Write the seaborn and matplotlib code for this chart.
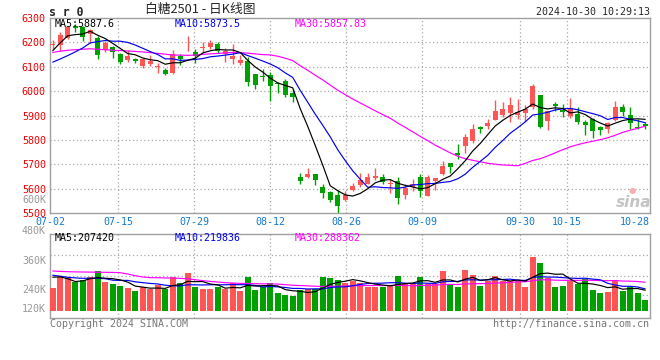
import matplotlib
matplotlib.use("Agg")
import matplotlib.pyplot as plt
import numpy as np
import pandas as pd
import seaborn as sns

# ---------------- data ----------------
open_p = [6190, 6190, 6220, 6268, 6264, 6234, 6220, 6168, 6182, 6151,
          6127, 6134, 6104, 6111, 6100, 6089, 6075, 6143, 6171, 6161,
          6176, 6182, 6193, 6152, 6134, 6115, 6122, 6070, 6062, 6066,
          6031, 6043, 5993, 5649, 5647, 5660, 5608, 5588, 5576, 5555,
          5596, 5617, 5622, 5644, 5649, 5621, 5633, 5574, 5606, 5647,
          5572, 5633, 5660, 5705, 5745, 5776, 5797, 5852, 5858, 5883,
          5903, 5910, 5902, 5910, 5934, 5984, 5879, 5947, 5924, 5899,
          5906, 5875, 5886, 5852, 5847, 5882, 5934, 5902, 5852, 5865]
high_p = [6211, 6241, 6268, 6275, 6268, 6254, 6225, 6207, 6187, 6157,
          6168, 6138, 6137, 6148, 6116, 6094, 6167, 6151, 6226, 6172,
          6200, 6209, 6200, 6179, 6193, 6149, 6141, 6072, 6091, 6077,
          6036, 6050, 6011, 5667, 5685, 5663, 5619, 5592, 5595, 5592,
          5626, 5667, 5667, 5685, 5660, 5640, 5649, 5619, 5640, 5663,
          5656, 5646, 5715, 5708, 5783, 5824, 5865, 5858, 5886, 5964,
          5954, 5977, 5968, 5944, 6029, 5984, 5917, 5955, 5947, 5972,
          5934, 5882, 5890, 5858, 5876, 5958, 5947, 5934, 5886, 5876]
low_p = [6173, 6165, 6215, 6243, 6207, 6196, 6134, 6161, 6137, 6110,
         6121, 6116, 6097, 6105, 6073, 6065, 6070, 6106, 6165, 6114,
         6155, 6173, 6155, 6118, 6111, 6108, 6022, 6009, 6043, 5961,
         5992, 5977, 5954, 5619, 5646, 5617, 5561, 5547, 5500, 5551,
         5592, 5606, 5619, 5637, 5619, 5582, 5537, 5558, 5592, 5567,
         5572, 5595, 5657, 5667, 5724, 5749, 5790, 5830, 5845, 5882,
         5895, 5876, 5886, 5879, 5927, 5849, 5841, 5920, 5893, 5890,
         5865, 5821, 5808, 5821, 5828, 5879, 5899, 5845, 5845, 5845]
close_p = [6193, 6230, 6264, 6261, 6223, 6250, 6148, 6198, 6161, 6121,
           6144, 6123, 6132, 6125, 6103, 6070, 6152, 6134, 6175, 6144,
           6179, 6196, 6163, 6163, 6145, 6127, 6036, 6026, 6059, 6022,
           6028, 5984, 5977, 5633, 5660, 5636, 5582, 5554, 5531, 5574,
           5612, 5636, 5649, 5652, 5630, 5623, 5562, 5605, 5619, 5592,
           5647, 5644, 5693, 5688, 5740, 5811, 5845, 5846, 5869, 5917,
           5927, 5944, 5916, 5929, 6022, 5854, 5917, 5938, 5916, 5931,
           5875, 5863, 5838, 5843, 5868, 5934, 5916, 5868, 5850, 5856]
volume_k = [230, 340, 323, 290, 307, 340, 397, 290, 267, 247,
            230, 197, 240, 213, 253, 213, 340, 280, 380, 240,
            217, 217, 240, 213, 273, 200, 340, 207, 233, 280,
            180, 157, 147, 207, 220, 217, 340, 330, 307, 280,
            297, 280, 240, 233, 233, 257, 347, 280, 267, 340,
            267, 267, 397, 267, 240, 407, 357, 247, 297, 347,
            297, 297, 297, 240, 540, 480, 323, 240, 247, 297,
            267, 317, 207, 173, 190, 307, 197, 240, 173, 107]

# moving-average values at the start of the window (history before 07-02)
ma5_head = [6166, 6198, 6227, 6232]
ma10_head = [6119, 6132, 6146, 6161, 6177, 6198, 6203, 6208, 6205]
ma30_head = [6159, 6164, 6168, 6170, 6172, 6174, 6172, 6170, 6168, 6167,
             6165, 6163, 6161, 6158, 6155, 6152, 6148, 6148, 6147, 6148,
             6151, 6153, 6155, 6157, 6159, 6158, 6156, 6153, 6150]
vma5_head = [335, 338, 320, 292]
vma10_head = [355, 345, 334, 328, 324, 324, 325, 320, 305]
vma30_head = [397, 393, 390, 388, 387, 386, 385, 384, 383, 380,
              367, 350, 337, 330, 330, 327, 327, 323, 320, 310,
              300, 293, 287, 280, 277, 273, 272, 270, 269]

date_labels = ['07-02', '07-15', '07-29', '08-12', '08-26', '09-09', '09-30', '10-15', '10-28']
price_ticks = [5500, 5600, 5700, 5800, 5900, 6000, 6100, 6200, 6300]
vol_tick_labels = ['480K', '360K', '240K', '120K']
price_legend = [('MA5:5887.6', 'black'), ('MA10:5873.5', '#0000ee'), ('MA30:5857.83', '#ff00ff')]
vol_legend = [('MA5:207420', 'black'), ('MA10:219836', '#0000ee'), ('MA30:288362', '#ff00ff')]

# ---------------- derived ----------------
n = len(close_p)
idx = np.arange(n)
o, h, l, c = map(np.array, (open_p, high_p, low_p, close_p))
vol = np.array(volume_k, dtype=float)


def moving(series, win, head):
    s = pd.Series(series, dtype=float).rolling(win).mean()
    s.iloc[:win - 1] = head
    return s.values


df = pd.DataFrame({
    'idx': idx,
    'ma5': moving(c, 5, ma5_head), 'ma10': moving(c, 10, ma10_head), 'ma30': moving(c, 30, ma30_head),
    'vma5': moving(vol, 5, vma5_head), 'vma10': moving(vol, 10, vma10_head), 'vma30': moving(vol, 30, vma30_head),
})

RED = '#ff5555'
GREEN = '#00a000'
GRID = '#a8a8a8'
SPINE = '#a0a0a0'
colors = np.where(c >= o, RED, GREEN)
LW = 0.85

# ---------------- layout ----------------
sns.set_style('white')
plt.rcParams['font.family'] = ['DejaVu Sans Mono', 'Noto Sans CJK SC']
W, H = 660, 360
fig = plt.figure(figsize=(W / 100, H / 100), dpi=100)


def px_axes(left, top, right, bottom):
    return fig.add_axes([left / W, 1 - bottom / H, (right - left) / W, (bottom - top) / H])


axp = px_axes(50, 18, 649.5, 213.3)
axv = px_axes(50, 234, 649.5, 318.3)
XMIN, XMAX = -0.36, 79.57
date_pos = [XMIN, 8.71, 18.84, 28.97, 39.11, 49.24, 62.31, 68.53, 77.64]
grid_pos = date_pos[1:-1]
dot = (0, (1, 2))

# ---- price panel ----
for y in price_ticks[1:-1]:
    axp.axhline(y, color=GRID, lw=0.9, ls=dot, zorder=1)
for x in grid_pos:
    axp.axvline(x, color=GRID, lw=0.9, ls=dot, zorder=1)

axp.vlines(idx, l, h, colors=colors, lw=1.0, zorder=3)
axp.bar(idx, np.maximum(np.abs(c - o), 4), bottom=np.minimum(o, c), width=0.68,
        color=colors, lw=0, zorder=4)

sns.lineplot(data=df, x='idx', y='ma30', ax=axp, color='#ff00ff', lw=LW, zorder=5, sort=False)
sns.lineplot(data=df, x='idx', y='ma10', ax=axp, color='#0000ee', lw=LW, zorder=6, sort=False)
sns.lineplot(data=df, x='idx', y='ma5', ax=axp, color='black', lw=LW, zorder=7, sort=False)

axp.set_xlim(XMIN, XMAX)
axp.set_ylim(price_ticks[0], price_ticks[-1])
axp.set_yticks(price_ticks)
axp.set_yticklabels([str(t) for t in price_ticks], color='#ee0000', fontsize=7.2)
axp.set_xticks(date_pos)
axp.set_xticklabels(date_labels, color='#1479d0', fontsize=7.2)
axp.tick_params(axis='both', length=0, pad=3)
axp.set_xlabel('')
axp.set_ylabel('')
for s in axp.spines.values():
    s.set_color(SPINE)
    s.set_linewidth(1.0)

for (txt, col), xpx in zip(price_legend, [54.3, 175, 295]):
    axp.text((xpx - 50) / 599.5, 0.969, txt, color=col, fontsize=7.2,
             transform=axp.transAxes, ha='left', va='center', zorder=10)

# ---- volume panel ----
for x in grid_pos:
    axv.axvline(x, color=GRID, lw=0.9, ls=dot, zorder=1)

axv.bar(idx, vol, width=0.8, color=colors, lw=0, zorder=3)
sns.lineplot(data=df, x='idx', y='vma30', ax=axv, color='#ff00ff', lw=LW, zorder=5, sort=False)
sns.lineplot(data=df, x='idx', y='vma10', ax=axv, color='#0000ee', lw=LW, zorder=6, sort=False)
sns.lineplot(data=df, x='idx', y='vma5', ax=axv, color='black', lw=LW, zorder=7, sort=False)
axv.set_xlim(XMIN, XMAX)
axv.set_ylim(-76, 767)
for fy in [0.75, 0.505, 0.275]:
    axv.plot([0, 1], [fy, fy], transform=axv.transAxes, color=GRID, lw=0.9, ls=dot, zorder=1)
axv.set_xticks([])
axv.set_yticks([])
axv.set_xlabel('')
axv.set_ylabel('')
for s in axv.spines.values():
    s.set_color(SPINE)
    s.set_linewidth(1.0)

for (txt, col), xpx in zip(vol_legend, [54.3, 175, 295]):
    axv.text((xpx - 50) / 599.5, 0.947, txt, color=col, fontsize=7.2,
             transform=axv.transAxes, ha='left', va='center', zorder=10)

# volume axis labels (gray), drawn in pixel positions
for lab, ypx in zip(vol_tick_labels, [230.7, 260.7, 290.0, 309.0]):
    fig.text(46 / W, 1 - ypx / H, lab, color='#999999', fontsize=7.2, ha='right', va='center')
fig.text(46 / W, 1 - 200.3 / H, '600K', color='#999999', fontsize=7.2, ha='right', va='center')

# ---- header / footer ----
fig.text(49 / W, 1 - 15.7 / H, 's r 0', fontsize=8.3, fontweight='bold', ha='left', va='baseline')
fig.text(200 / W, 1 - 13 / H, '白糖2501 - 日K线图', fontsize=9.2, ha='center', va='baseline',
         family=['Noto Sans CJK SC', 'DejaVu Sans'])
fig.text(649.5 / W, 1 - 15 / H, '2024-10-30 10:29:13', fontsize=7.2, ha='right', va='baseline')
fig.text(50 / W, 1 - 323.7 / H, 'Copyright 2024 SINA.COM', fontsize=7.2, color='#777777',
         ha='left', va='center')
fig.text(649.5 / W, 1 - 324 / H, 'http://finance.sina.com.cn', fontsize=7.2, color='#777777',
         ha='right', va='center')
# sina watermark
fig.text(651 / W, 1 - 207 / H, 'sina', fontsize=11, fontweight='bold', style='italic',
         color='#c4c4c4', ha='right', va='baseline', family=['DejaVu Sans'])
fig.text(632 / W, 1 - 190 / H, '●', fontsize=6, color='#f4b0b0', ha='center', va='center',
         family=['DejaVu Sans'])

fig.savefig('out.png', dpi=100)
